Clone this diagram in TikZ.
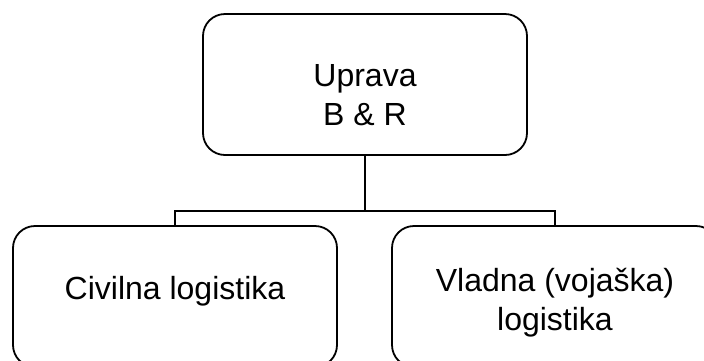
\documentclass[tikz,border=0pt]{standalone}
\usepackage{fontspec}
\setmainfont{Liberation Sans}
\tikzset{
	orgbox/.style={draw, line width=1.8pt, rounded corners=22pt, align=center,
		font=\fontsize{32}{39}\selectfont, inner sep=0pt},
	link/.style={line width=1.8pt}
}
\begin{document}
\begin{tikzpicture}[x=1pt, y=-1pt]
	\useasboundingbox (0,0) rectangle (704,360);
	% Boxes
	\node[orgbox, minimum width=324pt, minimum height=141pt, text height=82pt] (uprava) at (365,84.5) {Uprava\\B \& R};
	\node[orgbox, minimum width=324pt, minimum height=141pt, text depth=17pt] (civilna) at (175,296.5) {Civilna logistika};
	\node[orgbox, minimum width=326pt, minimum height=141pt, text height=74pt] (vladna) at (555,296.5) {Vladna (vojaška)\\logistika};
	% Connectors
	\coordinate (bus) at (365,211);
	\draw[link] (uprava.south) -- (bus);
	\draw[link] (civilna.north) |- (bus) -| (vladna.north);
\end{tikzpicture}
\end{document}
